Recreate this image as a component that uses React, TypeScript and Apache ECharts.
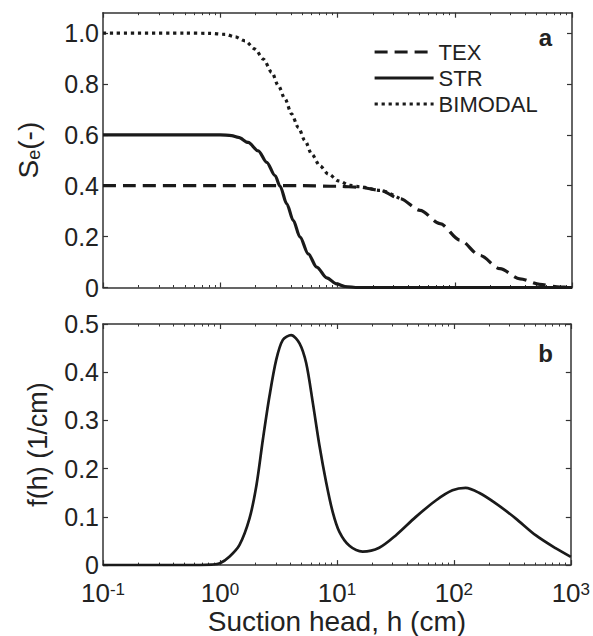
import React, { useEffect, useRef } from "react";
import * as echarts from "echarts";

// ---- Data ----
// Panel a: effective saturation Se(-) versus suction head h (cm)
const H_TEX = [0.1, 1, 5, 10, 15.5, 23, 34.1, 50.6, 74.8, 111, 164, 243, 360, 533, 791, 1000];
const SE_TEX = [0.4, 0.4, 0.4, 0.398, 0.394, 0.382, 0.349, 0.303, 0.251, 0.186, 0.126, 0.074, 0.034, 0.012, 0.002, 0.0];

const H_STR = [0.1, 0.5, 1.0, 1.25, 1.43, 1.73, 2.11, 2.49, 2.93, 3.24, 3.69, 4.2, 4.79, 5.63, 6.65, 8.09, 9.84, 11.6, 15, 30, 100, 1000];
const SE_STR = [0.6, 0.6, 0.6, 0.597, 0.59, 0.57, 0.537, 0.492, 0.44, 0.398, 0.329, 0.263, 0.198, 0.132, 0.08, 0.038, 0.014, 0.004, 0, 0, 0, 0];

const H_BIM = [0.1, 0.5, 0.8, 1.1, 1.34, 1.63, 1.98, 2.33, 2.75, 3.13, 3.57, 4.06, 4.63, 5.28, 6.03, 7.09, 8.36, 10.2, 12.8, 15.5, 23, 34.1];
const SE_BIM = [1.0, 1.0, 0.999, 0.995, 0.985, 0.969, 0.937, 0.898, 0.846, 0.793, 0.741, 0.682, 0.629, 0.577, 0.524, 0.478, 0.446, 0.419, 0.401, 0.396, 0.382, 0.349];

// Panel b: f(h) (1/cm)
const H_F = [0.1, 0.4, 0.67, 0.85, 1.0, 1.21, 1.47, 1.79, 2.05, 2.33, 2.65, 3.03, 3.45, 4.06, 4.79, 5.46, 6.22, 7.09, 8.09, 9.21, 10.5, 12.8, 16.6, 23, 32, 47.3, 70.1, 97.3, 126, 164, 228, 337, 500, 740, 1000];
const F_H = [0, 0, 0, 0.001, 0.004, 0.018, 0.042, 0.097, 0.165, 0.261, 0.35, 0.426, 0.467, 0.477, 0.46, 0.419, 0.337, 0.248, 0.172, 0.11, 0.069, 0.04, 0.028, 0.036, 0.062, 0.1, 0.134, 0.155, 0.16, 0.15, 0.128, 0.097, 0.062, 0.035, 0.017];

// Axis ticks
const X_MAJOR = [0.1, 1, 10, 100, 1000];
const X_MINOR = [0.2, 0.3, 0.4, 0.5, 0.6, 0.7, 0.8, 0.9, 2, 3, 4, 5, 6, 7, 8, 9, 20, 30, 40, 50, 60, 70, 80, 90, 200, 300, 400, 500, 600, 700, 800, 900];
const Y_TICKS_A = [0, 0.2, 0.4, 0.6, 0.8, 1.0];
const Y_TICKS_B = [0, 0.1, 0.2, 0.3, 0.4, 0.5];

const LEGEND_NAMES = ["TEX", "STR", "BIMODAL"];

const FONT = "'Liberation Sans', Arial, Helvetica, sans-serif";
const AX = "#333";
const LINE = "#1a1a1a";
const TXT = "#222";

function zip(xs: number[], ys: number[]) {
  return xs.map((x, i) => [x, ys[i]]);
}

export default function App() {
  const ref = useRef<HTMLDivElement>(null);
  useEffect(() => {
    if (!ref.current) return;
    const chart = echarts.init(ref.current, undefined, { renderer: "svg" });

    const xBase = (grid: number, pos: "top" | "bottom", labels: boolean) => ({
      type: "log",
      logBase: 10,
      gridIndex: grid,
      position: pos,
      min: 0.1,
      max: 1000,
      axisLine: { show: true, onZero: false, lineStyle: { color: AX, width: 1.5 } },
      axisTick: { show: true, inside: true, length: 5, customValues: X_MAJOR, lineStyle: { color: AX, width: 1.2 } },
      splitLine: { show: false },
      minorTick: { show: false },
      axisLabel: labels
        ? {
            show: true,
            margin: 16,
            customValues: X_MAJOR,
            formatter: (v: number) => `{b|10}{s|${Math.round(Math.log10(v))}}`,
            rich: {
              b: { fontSize: 26, fontFamily: FONT, color: TXT, lineHeight: 24 },
              s: { fontSize: 17, fontFamily: FONT, color: TXT, lineHeight: 4, verticalAlign: "top" },
            },
          }
        : { show: false },
    });
    const xMinor = (grid: number, pos: "top" | "bottom") => ({
      type: "log",
      logBase: 10,
      gridIndex: grid,
      position: pos,
      min: 0.1,
      max: 1000,
      axisLine: { show: false, onZero: false },
      axisTick: { show: true, inside: true, length: 2.5, customValues: X_MINOR, lineStyle: { color: AX, width: 1 } },
      axisLabel: { show: false },
      splitLine: { show: false },
    });
    const yAxis = (grid: number, pos: "left" | "right", max: number, interval: number, ticks: number[], labels: boolean, name?: string, nameGap?: number, rich?: any) => ({
      type: "value",
      gridIndex: grid,
      position: pos,
      min: 0,
      max,
      interval,
      name: name || "",
      nameLocation: "middle",
      nameGap: nameGap || 0,
      nameTextStyle: { fontSize: 27, fontFamily: FONT, color: TXT, lineHeight: 30, rich },
      axisLine: { show: true, onZero: false, lineStyle: { color: AX, width: 1.5 } },
      axisTick: { show: true, inside: true, length: 5, customValues: ticks, lineStyle: { color: AX, width: 1.2 } },
      splitLine: { show: false },
      axisLabel: labels
        ? {
            show: true,
            margin: 4,
            customValues: ticks,
            fontSize: 25,
            lineHeight: 22,
            fontFamily: FONT,
            color: TXT,
            formatter: (v: number) => (v > ticks[ticks.length - 1] + 1e-9 ? "" : v === 0 ? "0" : v.toFixed(1)),
          }
        : { show: false },
    });

    chart.setOption({
      animation: false,
      backgroundColor: "#fff",
      textStyle: { fontFamily: FONT },
      grid: [
        { left: 103, top: 12.7, width: 469, height: 274.8 },
        { left: 103, top: 324, width: 469, height: 243 },
      ],
      legend: {
        data: LEGEND_NAMES,
        orient: "vertical",
        left: 373,
        top: 39,
        padding: 0,
        itemGap: 0,
        itemWidth: 59,
        itemHeight: 14,
        itemStyle: { opacity: 0 },
        lineStyle: { width: 3.2 },
        textStyle: { fontSize: 22, fontFamily: FONT, color: TXT, lineHeight: 26 },
        selectedMode: false,
      },
      xAxis: [
        xBase(0, "bottom", false),
        xBase(0, "top", false),
        xMinor(0, "bottom"),
        xMinor(0, "top"),
        {
          ...xBase(1, "bottom", true),
          name: "Suction head, h (cm)",
          nameLocation: "middle",
          nameGap: 38,
          nameTextStyle: { fontSize: 28, fontFamily: FONT, color: TXT },
        },
        xBase(1, "top", false),
        xMinor(1, "bottom"),
        xMinor(1, "top"),
      ],
      yAxis: [
        yAxis(0, "left", 1.08, 0.2, Y_TICKS_A, true, "{s|S}{e|e}{s|(-)}", 60, {
          s: { fontSize: 28, fontFamily: FONT, color: TXT, lineHeight: 30 },
          e: { fontSize: 18, fontFamily: FONT, color: TXT, lineHeight: 10, verticalAlign: "bottom" },
        }),
        yAxis(0, "right", 1.08, 0.2, Y_TICKS_A, false),
        yAxis(1, "left", 0.5, 0.1, Y_TICKS_B, true, "f(h) (1/cm)", 43),
        yAxis(1, "right", 0.5, 0.1, Y_TICKS_B, false),
      ],
      graphic: [
        { type: "text", x: 545.5, y: 37, style: { text: "a", fontSize: 24, fontWeight: "bold", fontFamily: FONT, fill: TXT, align: "center", verticalAlign: "middle" } },
        { type: "text", x: 545.5, y: 353, style: { text: "b", fontSize: 24, fontWeight: "bold", fontFamily: FONT, fill: TXT, align: "center", verticalAlign: "middle" } },
      ],
      series: [
        {
          name: "TEX",
          type: "line",
          xAxisIndex: 0,
          yAxisIndex: 0,
          data: zip(H_TEX, SE_TEX),
          symbol: "none",
          smooth: 0.3,
          smoothMonotone: "x",
          lineStyle: { color: LINE, width: 3.2, type: [13, 7], cap: "butt" },
          itemStyle: { color: LINE },
          z: 3,
        },
        {
          name: "STR",
          type: "line",
          xAxisIndex: 0,
          yAxisIndex: 0,
          data: zip(H_STR, SE_STR),
          symbol: "none",
          smooth: 0.3,
          smoothMonotone: "x",
          lineStyle: { color: LINE, width: 3.2, type: "solid" },
          itemStyle: { color: LINE },
          z: 3,
        },
        {
          name: "BIMODAL",
          type: "line",
          xAxisIndex: 0,
          yAxisIndex: 0,
          data: zip(H_BIM, SE_BIM),
          symbol: "none",
          smooth: 0.3,
          smoothMonotone: "x",
          lineStyle: { color: LINE, width: 3.2, type: [3.2, 3.8], cap: "butt" },
          itemStyle: { color: LINE },
          z: 4,
        },
        {
          name: "f(h)",
          type: "line",
          xAxisIndex: 4,
          yAxisIndex: 2,
          data: zip(H_F, F_H),
          symbol: "none",
          smooth: 0.3,
          lineStyle: { color: LINE, width: 2.7, type: "solid" },
          itemStyle: { color: LINE },
          z: 3,
        },
      ],
    });
    return () => chart.dispose();
  }, []);
  return (
    <div
      ref={ref}
      style={{ position: "fixed", left: 0, top: 0, width: 593, height: 636, background: "#fff" }}
    />
  );
}
